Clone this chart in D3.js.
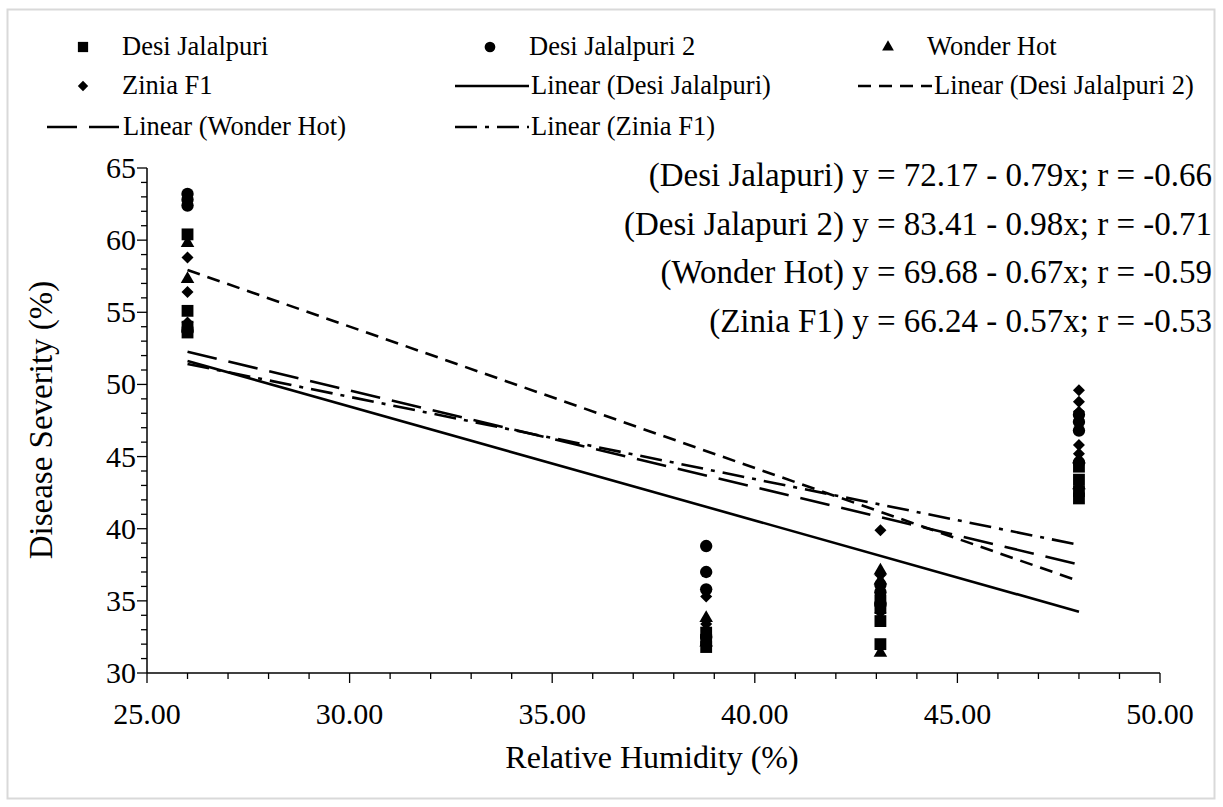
<!DOCTYPE html>
<html><head><meta charset="utf-8">
<script src="https://cdn.jsdelivr.net/npm/d3@7"></script>
<style>body{margin:0;background:#fff}svg{display:block}</style>
</head><body><svg id="c" width="1223" height="807" font-family="'Liberation Serif', 'Times New Roman', Times, serif"></svg>
<script>
// ---- data ----
const seriesNames = ["Desi Jalalpuri", "Desi Jalalpuri 2", "Wonder Hot", "Zinia F1"];
const humidityLevels = [26.0, 38.8, 43.1, 48.0];
const desiJalalpuri = [[26.0,60.4],[26.0,55.1],[26.0,54.0],[26.0,53.6],[38.8,32.8],[38.8,32.3],[38.8,31.8],[43.1,35.0],[43.1,34.5],[43.1,33.6],[43.1,32.0],[48.0,44.3],[48.0,43.4],[48.0,42.6],[48.0,42.1]];
const desiJalalpuri2 = [[26.0,63.2],[26.0,62.8],[26.0,62.4],[26.0,53.7],[38.8,38.8],[38.8,37.0],[38.8,35.8],[38.8,32.5],[43.1,36.1],[43.1,35.6],[43.1,34.8],[48.0,47.9],[48.0,47.4],[48.0,46.8],[48.0,44.6]];
const wonderHot = [[26.0,59.8],[26.0,57.3],[38.8,33.8],[38.8,32.1],[43.1,37.1],[43.1,36.4],[43.1,31.4],[48.0,44.8],[48.0,43.0]];
const ziniaF1 = [[26.0,58.8],[26.0,56.4],[26.0,54.3],[38.8,35.3],[38.8,33.4],[43.1,39.9],[43.1,36.8],[43.1,34.2],[48.0,49.6],[48.0,48.8],[48.0,48.1],[48.0,45.8],[48.0,45.2]];
const intercepts = [72.17, 83.41, 69.68, 66.24];
const slopes = [-0.79, -0.98, -0.67, -0.57];
const rValues = [-0.66, -0.71, -0.59, -0.53];
const eqLabels = ["Desi Jalapuri", "Desi Jalapuri 2", "Wonder Hot", "Zinia F1"];
const xTicks = [25, 30, 35, 40, 45, 50];
const yTicks = [30, 35, 40, 45, 50, 55, 60, 65];

// ---- chart ----
const FONT = "'Liberation Serif', 'Times New Roman', Times, serif";
const svg = d3.select("#c");
svg.append("rect").attr("x",7.5).attr("y",9.5).attr("width",1207).attr("height",789)
  .attr("fill","#fff").attr("stroke","#d9d9d9").attr("stroke-width",2);

const x = d3.scaleLinear().domain([25,50]).range([147,1160]);
const y = d3.scaleLinear().domain([30,65]).range([673,168]);
const allData = [desiJalalpuri, desiJalalpuri2, wonderHot, ziniaF1];
const symbols = [d3.symbolSquare, d3.symbolCircle, d3.symbolTriangle, d3.symbolSquare];
const symSizes = [140, 120, 80, 72];
const symRot = [0, 0, 0, 45];
const dashes = [null, "13,8", "30,12", "22,8,4,8"];

function txt(sel){ return sel.append("text").attr("font-family",FONT).attr("fill","#000"); }

// ticks
const g = svg.append("g");
const xMinor = d3.range(25,51,1), yMinor = d3.range(30,66,1);
g.selectAll(".xm").data(xMinor).enter().append("line")
  .attr("x1",d=>x(d)).attr("x2",d=>x(d)).attr("y1",y(30)).attr("y2",d=>y(30)+(d%5===0?10:6))
  .attr("stroke","#000").attr("stroke-width",1.3);
g.selectAll(".ym").data(yMinor).enter().append("line")
  .attr("y1",d=>y(d)).attr("y2",d=>y(d)).attr("x1",x(25)).attr("x2",d=>x(25)-(d%5===0?10:6))
  .attr("stroke","#000").attr("stroke-width",1.3);
g.append("line").attr("x1",x(25)).attr("x2",x(50)).attr("y1",y(30)).attr("y2",y(30)).attr("stroke","#000").attr("stroke-width",1.5);
g.append("line").attr("x1",x(25)).attr("x2",x(25)).attr("y1",y(30)).attr("y2",y(65)).attr("stroke","#000").attr("stroke-width",1.5);
xTicks.forEach(d=>{
  txt(g).attr("x",x(d)).attr("y",y(30)+51).attr("text-anchor","middle").attr("font-size",30).text(d.toFixed(2));
});
yTicks.forEach(d=>{
  txt(g).attr("x",x(25)-11).attr("y",y(d)+10).attr("text-anchor","end").attr("font-size",30).text(d);
});
txt(svg).attr("x",652).attr("y",768).attr("text-anchor","middle").attr("font-size",32).text("Relative Humidity (%)");
txt(svg).attr("transform","translate(52,420) rotate(-90)").attr("text-anchor","middle").attr("font-size",33).text("Disease Severity (%)");

// trend lines
allData.forEach((data,i)=>{
  const ext = d3.extent(data,d=>d[0]);
  svg.append("line").attr("x1",x(ext[0])).attr("x2",x(ext[1]))
    .attr("y1",y(intercepts[i]+slopes[i]*ext[0])).attr("y2",y(intercepts[i]+slopes[i]*ext[1]))
    .attr("stroke","#000").attr("stroke-width",2.6).attr("stroke-dasharray",dashes[i]);
});
// points
allData.forEach((data,i)=>{
  svg.append("g").selectAll("path").data(data).enter().append("path")
    .attr("transform",d=>`translate(${x(d[0])},${y(d[1])}) rotate(${symRot[i]})`)
    .attr("d",d3.symbol().type(symbols[i]).size(symSizes[i])).attr("fill","#000");
});

// equations
eqLabels.forEach((n,i)=>{
  txt(svg).attr("x",1212).attr("y",186+i*48.5).attr("text-anchor","end").attr("font-size",33)
    .text(`(${n}) y = ${intercepts[i].toFixed(2)} - ${Math.abs(slopes[i]).toFixed(2)}x; r = ${rValues[i].toFixed(2)}`);
});

// legend
const lg = svg.append("g");
const markerItems = [[0,83,47],[1,490,47],[2,888,47],[3,83,86]];
markerItems.forEach(([i,mx,my])=>{
  lg.append("path").attr("transform",`translate(${mx},${my}) rotate(${symRot[i]})`).attr("d",d3.symbol().type(symbols[i]).size(symSizes[i]*0.75)).attr("fill","#000");
  txt(lg).attr("x",mx+39).attr("y",my+8).attr("font-size",26.5).text(seriesNames[i]);
});
const lineItems = [[0,455,86],[1,858,86],[2,47,127],[3,455,127]];
lineItems.forEach(([i,lx,ly])=>{
  lg.append("line").attr("x1",lx).attr("x2",lx+74).attr("y1",ly).attr("y2",ly).attr("stroke","#000").attr("stroke-width",2.6).attr("stroke-dasharray",dashes[i]);
  txt(lg).attr("x",lx+76).attr("y",ly+8).attr("font-size",26.5).text(`Linear (${seriesNames[i]})`);
});
</script></body></html>
